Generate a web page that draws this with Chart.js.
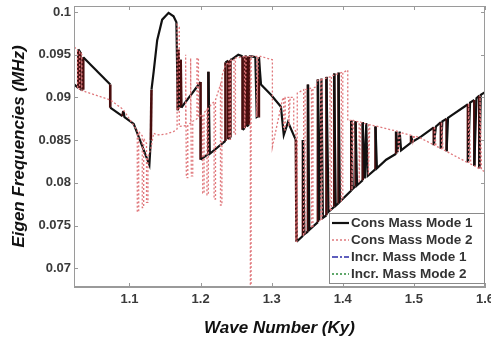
<!DOCTYPE html>
<html>
<head>
<meta charset="utf-8">
<script src="https://cdn.jsdelivr.net/npm/chart.js@4.4.1/dist/chart.umd.min.js"></script>
<style>
html, body { margin: 0; padding: 0; background: #fff; }
</style>
</head>
<body>
<canvas id="chart" width="491" height="345"></canvas>
<script>
// series, [wave number, frequency]
const consMode1 = [
  [1.0225,0.0915],[1.028,0.0911],[1.028,0.0956],[1.031,0.0953],[1.031,0.0909],[1.035,0.0909],[1.035,0.0947],
  [1.073,0.0915],[1.073,0.0888],[1.090,0.0878],[1.0915,0.0884],[1.093,0.0877],[1.106,0.0869],[1.128,0.0821],
  [1.130,0.0850],[1.131,0.0909],[1.134,0.0930],[1.139,0.0967],[1.146,0.0991],[1.155,0.0999],[1.162,0.0995],[1.166,0.0988],
  [1.168,0.0885],[1.169,0.0956],[1.170,0.0888],[1.172,0.0944],[1.173,0.0888],[1.200,0.0918],[1.200,0.0827],
  [1.211,0.0834],[1.211,0.0930],[1.213,0.0834],[1.235,0.0849],[1.235,0.0941],[1.239,0.0943],[1.239,0.0851],
  [1.242,0.0853],[1.242,0.0944],[1.245,0.0945],[1.253,0.0950],[1.259,0.0948],[1.259,0.0862],[1.262,0.0864],
  [1.262,0.0948],[1.265,0.0948],[1.265,0.0866],[1.268,0.0868],[1.268,0.0948],[1.272,0.0948],[1.277,0.0947],
  [1.279,0.0877],[1.281,0.0878],[1.282,0.0947],[1.285,0.0915],[1.299,0.0903],[1.313,0.0889],[1.317,0.0856],
  [1.323,0.0871],[1.334,0.0850],[1.335,0.0731],
  [1.344,0.0738],[1.344,0.0850],[1.346,0.0740],
  [1.351,0.0743],[1.351,0.0915],[1.353,0.0745],
  [1.365,0.0754],[1.365,0.0921],[1.367,0.0756],[1.370,0.0922],[1.372,0.0759],
  [1.377,0.0762],[1.377,0.0924],[1.380,0.0766],
  [1.388,0.0772],[1.388,0.0928],[1.390,0.0773],
  [1.394,0.0776],[1.394,0.0929],[1.396,0.0778],
  [1.412,0.0791],[1.412,0.0873],[1.414,0.0793],
  [1.418,0.0796],[1.418,0.0872],[1.420,0.0797],
  [1.428,0.0803],[1.428,0.0871],[1.431,0.0805],[1.433,0.0870],[1.435,0.0808],
  [1.446,0.0816],[1.446,0.0866],[1.448,0.0817],
  [1.461,0.0827],
  [1.475,0.0834],[1.475,0.0860],[1.477,0.0836],[1.480,0.0860],[1.482,0.0838],
  [1.496,0.0847],[1.496,0.0855],[1.498,0.0848],
  [1.510,0.0854],
  [1.528,0.0865],[1.528,0.0844],[1.531,0.0866],
  [1.538,0.0871],[1.538,0.0840],[1.540,0.0872],
  [1.546,0.0875],[1.546,0.0837],[1.548,0.0876],
  [1.553,0.0879],
  [1.576,0.0892],[1.576,0.0824],[1.579,0.0894],
  [1.585,0.0897],[1.585,0.0820],[1.588,0.0899],
  [1.592,0.0902],[1.592,0.0817],[1.594,0.0903],
  [1.600,0.0906]
];

const consMode2 = [
  [1.0225,0.0959],[1.027,0.0955],[1.027,0.0910],[1.030,0.0910],[1.030,0.0953],[1.033,0.0950],[1.033,0.0908],
  [1.073,0.0897],[1.091,0.0886],[1.1085,0.0864],
  [1.111,0.0862],[1.111,0.0766],[1.113,0.0766],[1.113,0.0860],
  [1.118,0.0855],[1.118,0.0771],[1.120,0.0771],[1.120,0.0852],
  [1.124,0.0846],[1.124,0.0777],[1.126,0.0777],[1.126,0.0830],
  [1.130,0.0840],[1.134,0.0858],[1.139,0.0856],[1.151,0.0857],[1.162,0.0860],
  [1.167,0.0863],[1.167,0.0985],[1.170,0.0982],[1.170,0.0866],
  [1.179,0.0867],[1.179,0.0950],[1.180,0.0806],[1.182,0.0806],[1.182,0.0868],
  [1.186,0.0870],[1.186,0.0946],[1.187,0.0808],[1.189,0.0808],[1.189,0.0872],
  [1.195,0.0875],[1.195,0.0946],[1.197,0.0946],[1.197,0.0877],
  [1.203,0.0880],[1.203,0.0788],[1.205,0.0788],[1.205,0.0882],
  [1.209,0.0886],[1.209,0.0786],[1.211,0.0786],[1.211,0.0888],
  [1.219,0.0895],[1.219,0.0781],[1.221,0.0781],[1.221,0.0897],
  [1.228,0.0915],[1.228,0.0774],[1.230,0.0774],[1.230,0.0925],
  [1.235,0.0938],
  [1.240,0.0941],[1.240,0.0851],[1.242,0.0851],[1.242,0.0943],
  [1.247,0.0945],[1.247,0.0857],[1.249,0.0857],[1.249,0.0946],
  [1.256,0.0947],
  [1.262,0.0948],[1.262,0.0864],[1.264,0.0948],
  [1.270,0.0948],[1.270,0.0678],[1.271,0.0678],[1.271,0.0948],
  [1.279,0.0948],[1.279,0.0877],[1.281,0.0948],
  [1.2845,0.0948],[1.301,0.0944],[1.301,0.0842],[1.315,0.0897],
  [1.317,0.0900],[1.317,0.0862],[1.319,0.0862],[1.319,0.0900],
  [1.324,0.0900],[1.324,0.0866],[1.326,0.0900],
  [1.331,0.0900],[1.331,0.0864],[1.334,0.0860],[1.334,0.0731],[1.336,0.0732],[1.336,0.0905],
  [1.345,0.0909],[1.345,0.0739],[1.347,0.0740],[1.347,0.0909],
  [1.356,0.0911],[1.356,0.0747],[1.358,0.0749],[1.358,0.0911],
  [1.362,0.0912],[1.365,0.0920],
  [1.369,0.0921],[1.369,0.0757],[1.371,0.0758],[1.371,0.0921],
  [1.382,0.0924],[1.382,0.0767],[1.384,0.0769],[1.384,0.0925],
  [1.398,0.0929],[1.398,0.0779],[1.400,0.0781],[1.400,0.0929],
  [1.407,0.0932],[1.407,0.0873],[1.411,0.0873],
  [1.413,0.0873],[1.413,0.0792],[1.415,0.0873],
  [1.423,0.0871],[1.423,0.0800],[1.425,0.0871],
  [1.436,0.0868],[1.436,0.0809],[1.438,0.0868],
  [1.454,0.0865],
  [1.478,0.0860],[1.478,0.0836],[1.481,0.0859],
  [1.499,0.0855],[1.499,0.0849],[1.501,0.0855],
  [1.510,0.0852],
  [1.529,0.0844],[1.529,0.0866],[1.531,0.0843],
  [1.539,0.0840],[1.539,0.0871],[1.541,0.0839],
  [1.552,0.0834],
  [1.577,0.0823],[1.577,0.0893],[1.580,0.0822],
  [1.593,0.0816],[1.593,0.0902],[1.595,0.0815],
  [1.600,0.0813]
];

// the incremental-mass runs sit under the others, only the legend shows them
const incrMode1 = [];
const incrMode2 = [];

const seriesLabels = ['Cons Mass Mode 1', 'Cons Mass Mode 2', 'Incr. Mass Mode 1', 'Incr. Mass Mode 2'];
const xTicks = [1.1, 1.2, 1.3, 1.4, 1.5, 1.6];
const yTicks = [0.07, 0.075, 0.08, 0.085, 0.09, 0.095, 0.1];

const toXY = pts => pts.map(p => ({ x: p[0], y: p[1] }));

const styles = [
  { color: '#111111', width: 2.2, dash: [] },
  { color: '#e0787c', width: 1.3, dash: [2, 2] },
  { color: '#2a2aa8', width: 1.2, dash: [6, 2, 2, 2] },
  { color: '#2b8a3a', width: 1.2, dash: [2, 2] }
];

const isVertical = c => Math.abs(c.p0.parsed.x - c.p1.parsed.x) < 0.0015;

// frame box, inward tick marks and the in-plot legend
const framePlugin = {
  id: 'frame',
  afterDraw(chart) {
    const { ctx, chartArea: a, scales } = chart;
    ctx.save();
    ctx.strokeStyle = '#9a9a9a';
    ctx.lineWidth = 1;
    ctx.strokeRect(a.left + 0.5, a.top + 0.5, a.right - a.left - 1, a.bottom - a.top - 1);
    ctx.beginPath();
    xTicks.forEach(v => {
      const px = Math.round(scales.x.getPixelForValue(v)) + 0.5;
      ctx.moveTo(px, a.bottom); ctx.lineTo(px, a.bottom - 4);
      ctx.moveTo(px, a.top); ctx.lineTo(px, a.top + 4);
    });
    yTicks.forEach(v => {
      const py = Math.round(scales.y.getPixelForValue(v)) + 0.5;
      ctx.moveTo(a.left, py); ctx.lineTo(a.left + 4, py);
      ctx.moveTo(a.right, py); ctx.lineTo(a.right - 4, py);
    });
    ctx.stroke();

    // legend box
    const bw = 156, bh = 71;
    const bx = a.right - bw, by = a.bottom - 3 - bh;
    ctx.fillStyle = '#fff';
    ctx.fillRect(bx, by, bw, bh);
    ctx.strokeStyle = '#8a8a8a';
    ctx.strokeRect(bx + 0.5, by + 0.5, bw - 1, bh - 1);
    ctx.font = 'bold 13.5px "Liberation Sans", Arial, sans-serif';
    ctx.textBaseline = 'middle';
    seriesLabels.forEach((lab, i) => {
      const cy = by + 10 + i * 17;
      const s = styles[i];
      ctx.strokeStyle = s.color;
      ctx.lineWidth = i === 0 ? 2.2 : 1.4;
      ctx.setLineDash(s.dash);
      ctx.beginPath();
      ctx.moveTo(bx + 3, cy); ctx.lineTo(bx + 20, cy);
      ctx.stroke();
      ctx.setLineDash([]);
      ctx.fillStyle = '#333';
      ctx.fillText(lab, bx + 22, cy);
    });
    ctx.restore();
  }
};

const seriesData = [consMode1, consMode2, incrMode1, incrMode2];

new Chart(document.getElementById('chart'), {
  type: 'line',
  data: {
    datasets: seriesData.map((d, i) => ({
      label: seriesLabels[i],
      data: toXY(d),
      borderColor: styles[i].color,
      borderWidth: styles[i].width,
      borderDash: styles[i].dash,
      pointRadius: 0,
      tension: 0,
      fill: false,
      order: i === 0 ? 2 : 1,
      segment: i === 0 ? {
        borderColor: c => isVertical(c) ? '#4a0e0e' : '#111111',
        borderWidth: c => isVertical(c) ? 2.6 : 2.2
      } : undefined
    }))
  },
  options: {
    responsive: false,
    animation: false,
    layout: { padding: { top: 6, right: 6, left: 0, bottom: 0 } },
    plugins: { legend: { display: false }, tooltip: { enabled: false } },
    scales: {
      x: {
        type: 'linear',
        min: 1.022,
        max: 1.6,
        afterBuildTicks: s => { s.ticks = xTicks.map(v => ({ value: v })); },
        afterFit: s => { s.height = 58; s.paddingLeft = 0; s.paddingRight = 0; },
        grid: { display: true, drawOnChartArea: false, drawTicks: false },
        border: { color: '#9a9a9a' },
        ticks: {
          padding: 5,
          color: '#3a3a3a',
          font: { family: '"Liberation Sans", Arial, sans-serif', size: 13, weight: 'bold' },
          callback: v => String(Number(v.toFixed(2)))
        },
        title: {
          display: true,
          text: 'Wave Number (Ky)',
          color: '#111',
          font: { family: '"Liberation Sans", Arial, sans-serif', size: 17, weight: 'bold', style: 'italic' },
          padding: { top: 6, bottom: 6 }
        }
      },
      y: {
        min: 0.0678,
        max: 0.1007,
        afterBuildTicks: s => { s.ticks = yTicks.map(v => ({ value: v })); },
        afterFit: s => { s.width = 74; s.paddingTop = 0; s.paddingBottom = 0; },
        grid: { display: true, drawOnChartArea: false, drawTicks: false },
        border: { color: '#9a9a9a' },
        ticks: {
          padding: 3,
          color: '#3a3a3a',
          font: { family: '"Liberation Sans", Arial, sans-serif', size: 13, weight: 'bold' },
          callback: v => String(Number(v.toFixed(3)))
        },
        title: {
          display: true,
          text: 'Eigen Frequencies (MHz)',
          color: '#111',
          font: { family: '"Liberation Sans", Arial, sans-serif', size: 17, weight: 'bold', style: 'italic' },
          padding: { top: 9, bottom: 9 }
        }
      }
    }
  },
  plugins: [framePlugin]
});
</script>
</body>
</html>
